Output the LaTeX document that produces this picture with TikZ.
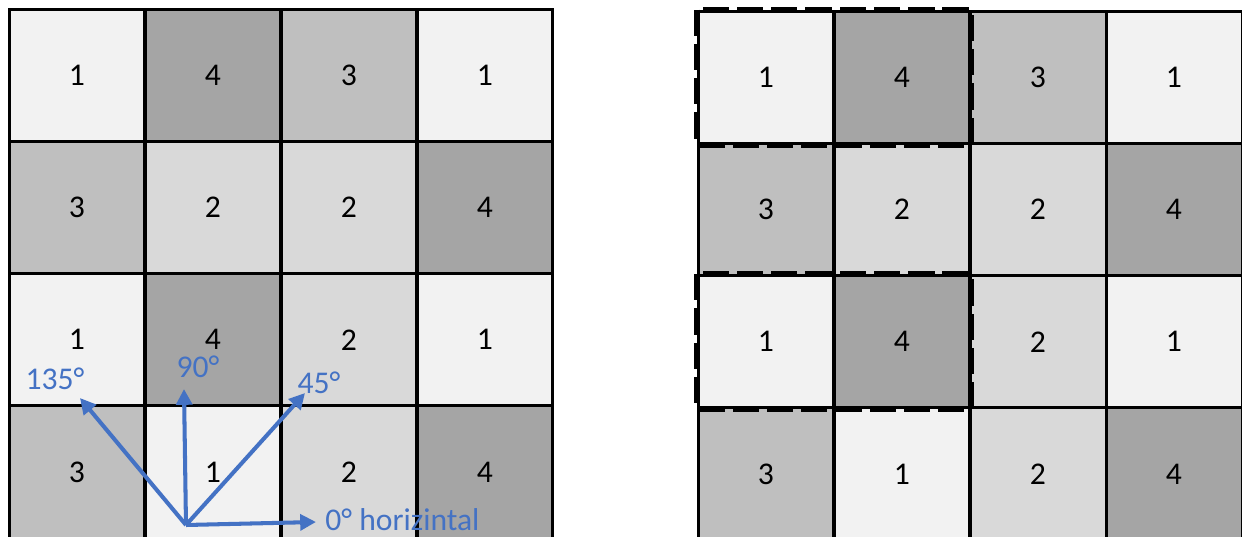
\documentclass[tikz,border=0pt]{standalone}
\usepackage{fontspec}
\setmainfont{Carlito}
\usetikzlibrary{positioning,arrows.meta}
\definecolor{grey1}{HTML}{F2F2F2}
\definecolor{grey2}{HTML}{D9D9D9}
\definecolor{grey3}{HTML}{BFBFBF}
\definecolor{grey4}{HTML}{A5A5A5}
\definecolor{dirBlue}{HTML}{4472C4}

\begin{document}
\begin{tikzpicture}[x=0.02cm, y=-0.02cm,
    cell/.style={rectangle, draw=black, line width=1.7pt, minimum width=2.72cm, minimum height=2.646cm, inner sep=0pt, font=\fontsize{18}{21}\selectfont},
    selBox/.style={draw=black, line width=3.4pt, dash pattern=on 15pt off 4.5pt},
    dirArrow/.style={-{Triangle[length=9pt,width=9pt]}, line width=2.3pt, draw=dirBlue},
    dirLabel/.style={text=dirBlue, font=\fontsize{18}{21}\selectfont, inner sep=0pt}
]
    \useasboundingbox (0,0) rectangle (1242,537);

    % Matrice sinistra
    \foreach \row [count=\r] in {{1,4,3,1},{3,2,2,4},{1,4,2,1},{3,1,2,4}}
        \foreach \v [count=\c] in \row
            \node[cell, fill=grey\v] (L-\r-\c) at ({9+136*(\c-0.5)}, {9+132.3*(\r-0.5)}) {\v};

    % Matrice destra
    \foreach \row [count=\r] in {{1,4,3,1},{3,2,2,4},{1,4,2,1},{3,1,2,4}}
        \foreach \v [count=\c] in \row
            \node[cell, fill=grey\v] (R-\r-\c) at ({698+136*(\c-0.5)}, {11+132.3*(\r-0.5)}) {\v};

    \draw[selBox] (R-1-1.north west) rectangle (R-1-2.south east);
    \draw[selBox] (R-3-1.north west) rectangle (R-3-2.south east);

    % Direzioni
    \coordinate (origin) at (186,525);
    \coordinate (tip0) at (316,522);
    \coordinate (tip45) at (305,393);
    \coordinate (tip90) at (184,389);
    \coordinate (tip135) at (80,398);

    \node[dirLabel, anchor=west] (lab0) at (325,520) {0° horizintal};
    \node[dirLabel] (lab45) at (319,383) {45°};
    \node[dirLabel] (lab90) at (198,367) {90°};
    \node[dirLabel] (lab135) at (55,379) {135°};

    \draw[dirArrow] (origin) -- (tip0);
    \draw[dirArrow] (origin) -- (tip45);
    \draw[dirArrow] (origin) -- (tip90);
    \draw[dirArrow] (origin) -- (tip135);
\end{tikzpicture}
\end{document}
